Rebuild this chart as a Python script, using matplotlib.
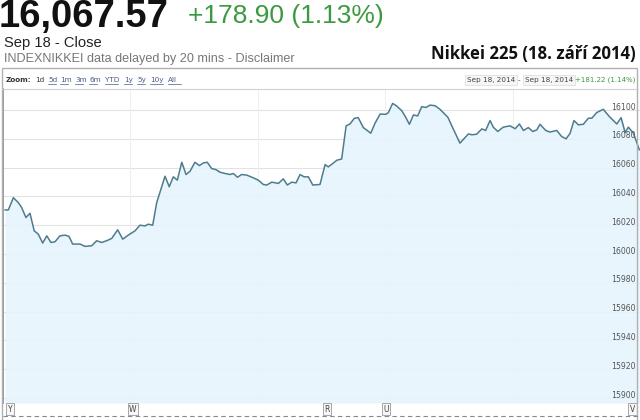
import matplotlib
matplotlib.use("Agg")
import matplotlib.pyplot as plt
from matplotlib.lines import Line2D
from matplotlib.patches import Rectangle
from matplotlib.transforms import blended_transform_factory

W, H = 640, 420

# minutes after market open, index level
minutes = [1.0, 2.5, 4.9, 7.2, 8.8, 10.8, 12.7, 14.7, 16.6, 18.7, 20.6, 22.6, 24.5,
           26.8, 29.2, 31.1, 32.8, 36.3, 38.6, 41.8, 44.1, 46.5, 48.8, 51.2, 54.0,
           56.4, 59.0, 62.2, 64.5, 66.9, 68.4, 70.5, 72.4, 76.3, 78.3, 80.2, 82.1,
           84.2, 86.2, 88.1, 90.4, 92.5, 94.3, 96.2, 98.3, 100.3, 102.2, 104.6,
           106.9, 108.5, 110.4, 112.4, 114.8, 117.9, 120.2, 122.6, 124.2, 126.6,
           129.7, 132.0, 133.9, 136.0, 138.0, 139.9, 141.8, 143.8, 145.9, 149.3,
           151.7, 153.2, 155.6, 157.2, 159.5, 161.6, 163.4, 165.5, 167.3, 169.7,
           173.2, 175.2, 177.6, 180.3, 181.5, 183.5, 185.4, 187.8, 189.3, 191.4,
           193.3, 195.3, 197.2, 199.2, 201.1, 203.5, 205.8, 209.5, 212.1, 215.2,
           219.2, 220.8, 223.1, 225.5, 227.3, 229.4, 230.9, 233.0, 235.6, 238.8,
           241.2, 243.2, 245.1, 247.4, 249.5, 251.4, 252.9, 255.6, 257.6, 260.8,
           263.1, 265.2, 267.1, 268.9, 271.0, 273.3, 275.7, 277.3, 279.6, 282.7,
           285.6, 289.1, 291.1, 293.0, 294.5, 296.9, 299.7]
prices = [16030.6, 16030.6, 16039.1, 16035.7, 16032.2, 16025.3, 16028.3, 16016.1,
          16013.8, 16007.6, 16012.6, 16008.0, 16008.5, 16012.6, 16013.1, 16012.2,
          16006.9, 16006.9, 16005.3, 16005.7, 16009.2, 16008.0, 16009.2, 16010.8,
          16016.8, 16010.3, 16013.1, 16016.1, 16020.0, 16019.5, 16020.7, 16020.0,
          16035.7, 16054.0, 16046.7, 16053.6, 16051.3, 16063.7, 16055.2, 16057.5,
          16063.7, 16061.4, 16063.2, 16063.7, 16059.3, 16058.6, 16056.8, 16055.9,
          16055.2, 16055.9, 16053.3, 16055.2, 16054.8, 16052.9, 16051.3, 16048.3,
          16047.9, 16049.9, 16049.0, 16052.2, 16047.9, 16049.9, 16049.4, 16055.2,
          16053.6, 16053.6, 16047.9, 16048.3, 16062.1, 16060.5, 16063.2, 16065.1,
          16066.0, 16089.0, 16090.3, 16094.3, 16094.7, 16087.8, 16083.9, 16090.8,
          16097.2, 16097.0, 16098.2, 16104.6, 16102.8, 16099.5, 16095.9, 16090.1,
          16096.6, 16095.9, 16102.3, 16101.8, 16103.4, 16103.0, 16100.5, 16095.0,
          16086.7, 16077.0, 16083.4, 16082.8, 16083.2, 16086.9, 16085.8, 16092.7,
          16088.1, 16085.1, 16088.1, 16089.0, 16087.0, 16090.3, 16085.8, 16087.8,
          16085.1, 16086.2, 16090.1, 16085.8, 16084.7, 16085.8, 16081.6, 16080.0,
          16083.9, 16092.7, 16089.7, 16090.1, 16094.3, 16094.3, 16098.2, 16100.5,
          16095.4, 16090.3, 16094.7, 16084.3, 16088.1, 16083.9, 16072.4]

y_ticks = [15900, 15920, 15940, 15960, 15980, 16000, 16020, 16040, 16060, 16080, 16100]
hour_lines = [60, 120, 180, 240]
flag_minutes = [3.3, 61.2, 152.6, 180.4, 296.5]
flag_letters = ["Y", "W", "R", "U", "V"]
zoom_links = ["5d", "1m", "3m", "6m", "YTD", "1y", "5y", "10y", "All"]
zoom_link_x = [48, 60, 75, 89, 105, 124, 137, 150, 168]

fig = plt.figure(figsize=(W / 100, H / 100), dpi=100)
fig.patch.set_facecolor("white")


def fx(x):
    return x / W


def fy(y):
    return 1 - y / H


# header
fig.text(fx(-1), fy(27), "16,067.57", fontsize=27.5, fontweight="bold",
         family="Liberation Sans", color="#111111", va="baseline")
fig.text(fx(188), fy(23), "+178.90 (1.13%)", fontsize=19,
         family="Liberation Sans", color="#3b9a40", va="baseline")
fig.text(fx(4), fy(47), "Sep 18 - Close", fontsize=10.6,
         family="Liberation Sans", color="#222222", va="baseline")
fig.text(fx(4), fy(62), "INDEXNIKKEI data delayed by 20 mins - Disclaimer", fontsize=9.1,
         family="Liberation Sans", color="#777777", va="baseline")
fig.text(fx(636), fy(59), "Nikkei 225 (18. září 2014)", fontsize=12.1, fontweight="bold",
         family="Open Sans", color="#111111", va="baseline", ha="right")

# chart frame and toolbar
fig.patches.append(Rectangle((fx(2), fy(421)), fx(637) - fx(2), fy(68) - fy(421),
                             transform=fig.transFigure, fill=False,
                             edgecolor="#b0b0b0", lw=1))
fig.lines.append(Line2D([fx(2), fx(638)], [fy(88.5), fy(88.5)],
                        transform=fig.transFigure, color="#d0d0d0", lw=0.8))
fig.text(fx(6), fy(80), "Zoom:", fontsize=5.2, fontweight="bold",
         family="DejaVu Sans", color="#333333", va="center")
fig.text(fx(35), fy(80), "1d", fontsize=5.2, family="DejaVu Sans",
         color="#333333", va="center")
for lbl, x in zip(zoom_links, zoom_link_x):
    fig.text(fx(x), fy(80), lbl, fontsize=5.2, family="DejaVu Sans",
             color="#4a5a8a", va="center")
    fig.lines.append(Line2D([fx(x), fx(x + 4.2 * len(lbl))], [fy(84), fy(84)],
                            transform=fig.transFigure, color="#4a5a8a", lw=0.5))

box = dict(boxstyle="square,pad=0.3", facecolor="#f6f6f6", edgecolor="#e0e0e0", lw=0.6)
fig.text(fx(467), fy(80), "Sep 18, 2014", fontsize=5.2, family="DejaVu Sans",
         color="#444444", va="center", bbox=box)
fig.text(fx(517.5), fy(80), "-", fontsize=5.2, family="DejaVu Sans",
         color="#444444", va="center")
fig.text(fx(525), fy(80), "Sep 18, 2014", fontsize=5.2, family="DejaVu Sans",
         color="#444444", va="center", bbox=box)
fig.text(fx(575), fy(80), "+181.22 (1.14%)", fontsize=5.0, family="DejaVu Sans",
         color="#3b9a40", va="center")

# plot area
ax = fig.add_axes([fx(3), fy(403), fx(640) - fx(3), fy(89) - fy(403)])
ax.set_facecolor("white")
ax.set_xlim(0, 300)
ax.set_ylim(15896.5, 16114.6)
for v in y_ticks:
    ax.axhline(v, color="#e2e2e2", lw=0.8, zorder=1)
for m in hour_lines:
    ax.axvline(m, color="#efefef", lw=0.8, zorder=1)
ax.fill_between(minutes, prices, 15896.5, color="#e6f4fc", alpha=0.85, lw=0, zorder=2)
ax.plot(minutes, prices, color="#4d7c8f", lw=1.1, zorder=3)
for v in y_ticks:
    ax.text(0.993, v + 2, str(v), transform=blended_transform_factory(ax.transAxes, ax.transData),
            ha="right", va="center", fontsize=5.6, family="DejaVu Sans", color="#555555", zorder=4)
ax.set_xticks([])
ax.set_yticks([])
for s in ["top", "right", "bottom"]:
    ax.spines[s].set_visible(False)
ax.spines["left"].set_color("#8a8a8a")
ax.spines["left"].set_linewidth(1.2)

# news flags below the chart
flag_tr = blended_transform_factory(ax.transData, fig.transFigure)
flag_box = dict(boxstyle="square,pad=0.2", facecolor="#f7f7f7", edgecolor="#9a9a9a", lw=0.6)
for m, letter in zip(flag_minutes, flag_letters):
    ax.text(m, fy(409), letter, transform=flag_tr, ha="center", va="center",
            fontsize=5.5, family="DejaVu Sans", color="#444444", bbox=flag_box, clip_on=False)
fig.lines.append(Line2D([fx(3), fx(640)], [fy(416), fy(416)], transform=fig.transFigure,
                        color="#888888", lw=0.8, linestyle=(0, (4, 3))))

fig.savefig("out.png", dpi=100)
